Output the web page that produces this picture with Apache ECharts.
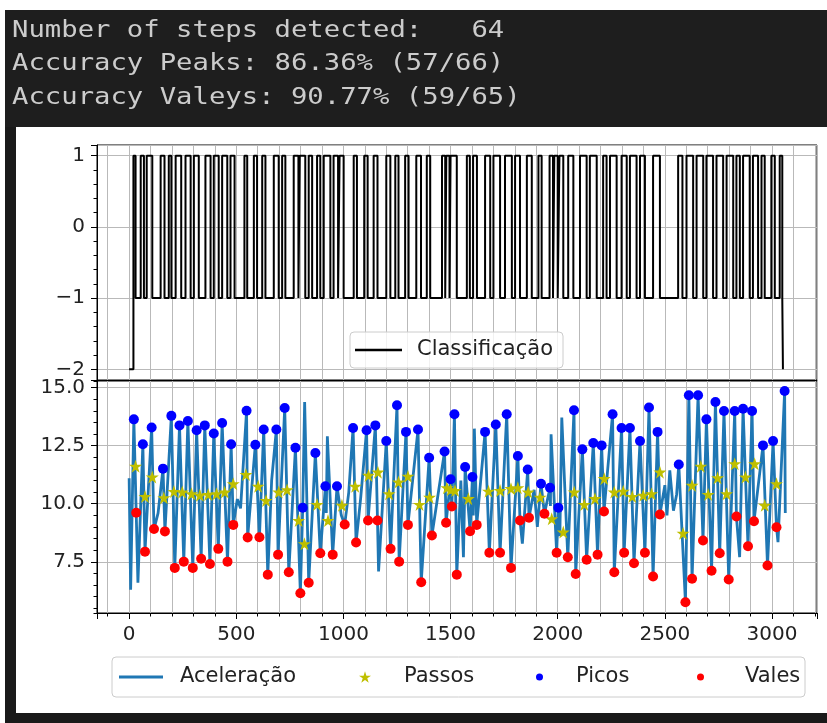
<!DOCTYPE html>
<html><head><meta charset="utf-8">
<script src="https://cdn.jsdelivr.net/npm/echarts@6/dist/echarts.min.js"></script>
<style>html,body{margin:0;padding:0;background:#fff}#c{width:827px;height:723px}</style>
</head><body><div id="c"></div>
<script>
// ---------- text ----------
const headerLines = [
  'Number of steps detected:   64',
  'Accuracy Peaks: 86.36% (57/66)',
  'Accuracy Valeys: 90.77% (59/65)'
];
const classLegendName = 'Classificação';
const seriesNames = ['Aceleração', 'Passos', 'Picos', 'Vales'];

// ---------- ticks ----------
const xRange = [-150, 3210];
const classYRange = [-2.15, 1.15];
const accelYRange = [5.3, 15.28];
const accelYTicks = [7.5, 10.0, 12.5, 15.0];

// ---------- classification (value -2 at ends, -1 baseline, +1 pulses) ----------
const classStartX = 0;
const classEndX = 3051;
const classPulses = [
  [20,30],[54,69],[82,108],[147,165],[185,197],[217,243],[263,287],[302,325],[356,380],[395,418],
  [434,458],[473,492],[538,551],[582,597],[621,636],[675,698],[714,729],[768,790],[796,822],[838,854],
  [877,892],[908,939],[954,975],[982,1001],[1048,1063],[1097,1113],[1141,1159],[1200,1219],[1242,1257],[1288,1304],
  [1340,1362],[1389,1405],[1460,1475],[1480,1495],[1500,1529],[1576,1590],[1605,1623],[1661,1685],[1700,1731],[1754,1786],
  [1801,1824],[1856,1879],[1910,1925],[1962,1978],[1984,2000],[2008,2026],[2049,2073],[2104,2135],[2150,2182],[2212,2228],
  [2244,2275],[2298,2322],[2337,2368],[2384,2407],[2445,2477],[2562,2582],[2601,2632],[2648,2679],[2694,2725],[2741,2772],
  [2788,2819],[2834,2850],[2865,2896],[2911,2935],[2951,2966],[2997,3013],[3036,3048]
];

// ---------- acceleration ----------
const accel = [
  [0,11.1],[7,6.3],[22,13.63],[33,9.61],[41,6.6],[64,12.56],[74,7.94],[105,13.28],[116,8.91],[135,9.6],
  [158,11.51],[167,8.81],[197,13.78],[213,7.24],[235,13.37],[255,7.51],[274,13.56],[297,7.24],[315,13.16],[336,7.63],
  [353,13.37],[377,7.41],[395,13.02],[416,8.06],[434,13.47],[459,7.51],[476,12.56],[486,9.09],[505,10.2],[520,9.8],
  [548,14.0],[553,8.55],[589,12.54],[608,8.56],[628,13.19],[647,6.95],[665,11.0],[687,13.19],[695,7.81],[726,14.12],
  [745,7.05],[776,12.41],[799,6.15],[810,9.83],[819,14.38],[838,6.6],[869,12.18],[892,7.87],[916,10.75],[920,9.6],
  [925,12.9],[950,7.81],[970,10.75],[990,9.5],[1006,9.11],[1025,10.5],[1045,13.26],[1059,8.33],[1080,10.2],[1108,13.16],
  [1115,9.28],[1149,13.37],[1159,9.28],[1164,7.09],[1200,12.7],[1220,8.06],[1250,14.24],[1260,7.51],[1292,13.09],[1301,9.09],
  [1348,13.19],[1363,6.62],[1400,11.98],[1413,8.63],[1440,10.3],[1472,12.25],[1479,9.18],[1500,11.05],[1506,9.88],[1518,13.85],
  [1529,6.95],[1548,11.0],[1560,7.7],[1568,11.58],[1591,8.82],[1602,11.15],[1606,9.5],[1611,13.23],[1622,9.09],[1661,13.09],
  [1681,7.89],[1711,13.41],[1731,7.89],[1762,13.85],[1782,7.24],[1814,12.05],[1824,9.28],[1835,8.28],[1860,11.47],[1866,9.4],
  [1890,10.6],[1905,9.0],[1922,10.86],[1938,9.57],[1964,10.69],[1966,9.9],[1969,12.99],[1995,7.89],[2003,9.83],[2010,8.6],
  [2019,13.71],[2047,7.7],[2076,14.02],[2084,6.98],[2115,12.34],[2135,7.59],[2166,12.61],[2186,7.81],[2205,12.51],[2216,9.67],
  [2256,13.85],[2264,7.05],[2298,13.26],[2310,7.89],[2337,13.26],[2356,7.44],[2384,12.7],[2407,7.89],[2426,14.14],[2445,6.87],
  [2466,13.09],[2477,9.54],[2500,10.8],[2510,9.5],[2523,11.44],[2540,9.7],[2555,10.4],[2565,11.69],[2596,5.76],[2612,14.67],
  [2627,6.77],[2655,14.67],[2678,8.42],[2694,13.63],[2718,7.12],[2736,14.38],[2756,7.87],[2776,13.99],[2798,6.74],[2826,13.99],
  [2834,9.45],[2849,7.7],[2865,14.09],[2888,8.17],[2907,13.99],[2916,9.25],[2958,12.51],[2979,7.34],[3005,12.7],[3021,8.99],
  [3028,8.35],[3059,14.85],[3062,9.6]
];
const steps = [
  [30,11.61],[74,10.31],[108,11.15],[162,10.26],[209,10.53],[248,10.5],[291,10.43],[330,10.36],[369,10.4],[408,10.43],
  [446,10.5],[486,10.86],[545,11.26],[602,10.75],[639,10.14],[698,10.5],[737,10.6],[791,9.28],[818,8.28],[877,9.97],
  [928,9.28],[993,9.93],[1055,10.75],[1117,11.22],[1161,11.36],[1213,10.43],[1257,10.93],[1301,11.18],[1355,9.97],[1402,10.28],
  [1483,10.69],[1500,10.6],[1521,10.57],[1583,10.22],[1677,10.54],[1731,10.57],[1782,10.65],[1814,10.69],[1862,10.5],[1918,10.28],
  [1972,9.35],[2026,8.78],[2077,10.5],[2124,9.97],[2174,10.22],[2217,11.08],[2264,10.5],[2306,10.54],[2348,10.31],[2399,10.36],
  [2438,10.43],[2477,11.36],[2585,8.73],[2627,10.79],[2668,11.61],[2702,10.4],[2746,11.12],[2788,10.43],[2826,11.72],[2876,11.15],
  [2919,11.72],[2966,9.93],[3021,10.86]
];
const peaks = [
  [22,13.63],[64,12.56],[105,13.28],[158,11.51],[197,13.78],[235,13.37],[274,13.56],[315,13.16],[353,13.37],[395,13.02],
  [434,13.47],[476,12.56],[548,14.0],[589,12.54],[628,13.19],[687,13.19],[726,14.12],[776,12.41],[810,9.83],[869,12.18],
  [916,10.75],[970,10.75],[1045,13.26],[1108,13.16],[1149,13.37],[1200,12.7],[1250,14.24],[1292,13.09],[1348,13.19],[1400,11.98],
  [1472,12.25],[1500,11.05],[1518,13.85],[1568,11.58],[1602,11.15],[1661,13.09],[1711,13.41],[1762,13.85],[1814,12.05],[1860,11.47],
  [1922,10.86],[1964,10.69],[2003,9.83],[2076,14.02],[2115,12.34],[2166,12.61],[2205,12.51],[2256,13.85],[2298,13.26],[2337,13.26],
  [2384,12.7],[2426,14.14],[2466,13.09],[2565,11.69],[2612,14.67],[2655,14.67],[2694,13.63],[2736,14.38],[2776,13.99],[2826,13.99],
  [2865,14.09],[2907,13.99],[2958,12.51],[3005,12.7],[3059,14.85]
];
const valleys = [
  [33,9.61],[74,7.94],[116,8.91],[167,8.81],[213,7.24],[255,7.51],[297,7.24],[336,7.63],[377,7.41],[416,8.06],
  [459,7.51],[486,9.09],[553,8.55],[608,8.56],[647,6.95],[695,7.81],[745,7.05],[799,6.15],[838,6.6],[892,7.87],
  [950,7.81],[1006,9.11],[1059,8.33],[1115,9.28],[1159,9.28],[1220,8.06],[1260,7.51],[1301,9.09],[1363,6.62],[1413,8.63],
  [1479,9.18],[1506,9.88],[1529,6.95],[1591,8.82],[1622,9.09],[1681,7.89],[1731,7.89],[1782,7.24],[1824,9.28],[1866,9.4],
  [1938,9.57],[1995,7.89],[2047,7.7],[2084,6.98],[2135,7.59],[2186,7.81],[2216,9.67],[2264,7.05],[2310,7.89],[2356,7.44],
  [2407,7.89],[2445,6.87],[2477,9.54],[2596,5.76],[2627,6.77],[2678,8.42],[2718,7.12],[2756,7.87],[2798,6.74],[2834,9.45],
  [2888,8.17],[2916,9.25],[2979,7.34],[3021,8.99]
];

// ---------- build step-line data for classification ----------
const classData = [[classStartX, -2]];
classPulses.forEach(function (p, i) {
  if (i === 0) { classData.push([p[0], -2]); }
  classData.push([p[0], -1], [p[0], 1], [p[1], 1], [p[1], -1]);
});
classData.push([classEndX, -1], [classEndX, -2]);

const STAR = 'path://M0,-1L0.2245,-0.309L0.951,-0.309L0.363,0.118L0.588,0.809L0,0.382L-0.588,0.809L-0.363,0.118L-0.951,-0.309L-0.2245,-0.309Z';
const GRID_C = '#b9b9b9';
const FONT = 'DejaVu Sans';
const LBL = { fontFamily: FONT, fontSize: 20, color: '#222' };
const minus = function (v) { return v < 0 ? '\u2212' + Math.abs(v) : String(v); };
const HFONT = '23px "DejaVu Sans Mono"';

function xAxisFor(gi, showLabels) {
  return {
    type: 'value', gridIndex: gi, min: xRange[0], max: xRange[1], splitNumber: 7,
    axisLine: { show: true, onZero: false, lineStyle: { color: '#000', width: 1 } },
    axisTick: { show: showLabels, length: 6, lineStyle: { color: '#000' } },
    minorTick: { show: showLabels, splitNumber: 5, length: 3.5, lineStyle: { color: '#000' } },
    axisLabel: Object.assign({ show: showLabels, margin: 12, showMinLabel: false, showMaxLabel: false,
      formatter: function (v) { return String(v); } }, LBL),
    splitLine: { show: true, lineStyle: { color: GRID_C, width: 1 } },
    minorSplitLine: { show: true, lineStyle: { color: GRID_C, width: 1 } }
  };
}

const chart = echarts.init(document.getElementById('c'), null, { renderer: 'canvas' });
chart.setOption({
  animation: false,
  backgroundColor: '#fff',
  grid: [
    { left: 97, top: 145, width: 720, height: 235, show: true, borderColor: '#000', borderWidth: 1 },
    { left: 97, top: 381, width: 720, height: 232, show: true, borderColor: '#000', borderWidth: 1 }
  ],
  xAxis: [xAxisFor(0, false), xAxisFor(1, true)],
  yAxis: [
    {
      type: 'value', gridIndex: 0, min: classYRange[0], max: classYRange[1], splitNumber: 3,
      axisLine: { show: true, onZero: false, lineStyle: { color: '#000' } },
      axisTick: { length: 6, lineStyle: { color: '#000' } },
      minorTick: { show: true, splitNumber: 5, length: 3.5, lineStyle: { color: '#000' } },
      axisLabel: Object.assign({ margin: 12, showMinLabel: false, showMaxLabel: false, formatter: minus }, LBL),
      splitLine: { show: true, lineStyle: { color: GRID_C } }
    },
    {
      type: 'value', gridIndex: 1, min: accelYRange[0], max: accelYRange[1], splitNumber: 20, offset: 0,
      axisLine: { show: true, onZero: false, lineStyle: { color: '#000' } },
      axisTick: { length: 3.5, lineStyle: { color: '#000' } },
      axisLabel: { show: false },
      splitLine: { show: false }
    },
    {
      type: 'value', gridIndex: 1, min: accelYRange[0], max: accelYRange[1], offset: 0, position: 'left',
      axisLine: { show: false, onZero: false },
      axisTick: { length: 6, customValues: accelYTicks, lineStyle: { color: '#000' } },
      axisLabel: Object.assign({ margin: 12, customValues: accelYTicks, formatter: function (v) { return v.toFixed(1); } }, LBL),
      splitLine: { show: true, lineStyle: { color: GRID_C } }
    }
  ],
  legend: [
    { left: 355, top: 338, padding: 0, selectedMode: false, data: [classLegendName], icon: 'rect', itemWidth: 47, itemHeight: 2.5, z: 20,
      textStyle: { fontFamily: FONT, fontSize: 21, color: '#222', padding: [0, 0, 0, 10], lineHeight: 24 } },
    { left: 119, top: 665, padding: 0, selectedMode: false, data: [seriesNames[0]], icon: 'rect', itemWidth: 44, itemHeight: 3, z: 20,
      textStyle: { fontFamily: FONT, fontSize: 21, color: '#222', padding: [0, 0, 0, 12], lineHeight: 24 } },
    { left: 359, top: 665, padding: 0, selectedMode: false, data: [seriesNames[1]], icon: STAR, itemWidth: 12, itemHeight: 12, z: 20,
      textStyle: { fontFamily: FONT, fontSize: 21, color: '#222', padding: [0, 0, 0, 28], lineHeight: 24 } },
    { left: 536, top: 665, padding: 0, selectedMode: false, data: [seriesNames[2]], icon: 'circle', itemWidth: 7, itemHeight: 7, z: 20,
      textStyle: { fontFamily: FONT, fontSize: 21, color: '#222', padding: [0, 0, 0, 28], lineHeight: 24 } },
    { left: 697, top: 665, padding: 0, selectedMode: false, data: [seriesNames[3]], icon: 'circle', itemWidth: 7, itemHeight: 7, z: 20,
      textStyle: { fontFamily: FONT, fontSize: 21, color: '#222', padding: [0, 0, 0, 36], lineHeight: 24 } }
  ],
  graphic: [
    { type: 'rect', shape: { x: 5, y: 10, width: 822, height: 117 }, style: { fill: '#1e1e1e' }, z: 1 },
    { type: 'rect', shape: { x: 5, y: 127, width: 11, height: 596 }, style: { fill: '#1a1a1a' }, z: 1 },
    { type: 'rect', shape: { x: 5, y: 713, width: 822, height: 10 }, style: { fill: '#1a1a1a' }, z: 1 },
    { type: 'text', x: 12, y: 31, scaleX: 1.185, z: 2, style: { text: headerLines[0], fill: '#cccccc', font: HFONT, verticalAlign: 'middle' } },
    { type: 'text', x: 12, y: 64, scaleX: 1.185, z: 2, style: { text: headerLines[1], fill: '#cccccc', font: HFONT, verticalAlign: 'middle' } },
    { type: 'text', x: 12, y: 98, scaleX: 1.185, z: 2, style: { text: headerLines[2], fill: '#cccccc', font: HFONT, verticalAlign: 'middle' } },
    { type: 'rect', shape: { x: 350, y: 332, width: 213, height: 36, r: 4 }, style: { fill: 'rgba(255,255,255,0.8)', stroke: '#cccccc', lineWidth: 1 }, z: 10 },
    { type: 'rect', shape: { x: 112, y: 657, width: 693, height: 40, r: 4 }, style: { fill: '#fff', stroke: '#cccccc', lineWidth: 1 }, z: 10 }
  ],
  series: [
    { name: classLegendName, type: 'line', xAxisIndex: 0, yAxisIndex: 0, data: classData, showSymbol: false, symbol: 'none',
      lineStyle: { color: '#000', width: 2 }, itemStyle: { color: '#000' }, z: 3 },
    { name: seriesNames[0], type: 'line', xAxisIndex: 1, yAxisIndex: 1, data: accel, showSymbol: false, symbol: 'none',
      lineStyle: { color: '#1f77b4', width: 2.8 }, itemStyle: { color: '#1f77b4' }, z: 3 },
    { name: seriesNames[1], type: 'scatter', xAxisIndex: 1, yAxisIndex: 1, data: steps, symbol: STAR, symbolSize: 13,
      itemStyle: { color: '#bfbf00', opacity: 1 }, z: 4 },
    { name: seriesNames[2], type: 'scatter', xAxisIndex: 1, yAxisIndex: 1, data: peaks, symbol: 'circle', symbolSize: 10,
      itemStyle: { color: '#0000ff', opacity: 1 }, z: 5 },
    { name: seriesNames[3], type: 'scatter', xAxisIndex: 1, yAxisIndex: 1, data: valleys, symbol: 'circle', symbolSize: 10,
      itemStyle: { color: '#ff0000', opacity: 1 }, z: 6 }
  ]
});
</script>
</body></html>
